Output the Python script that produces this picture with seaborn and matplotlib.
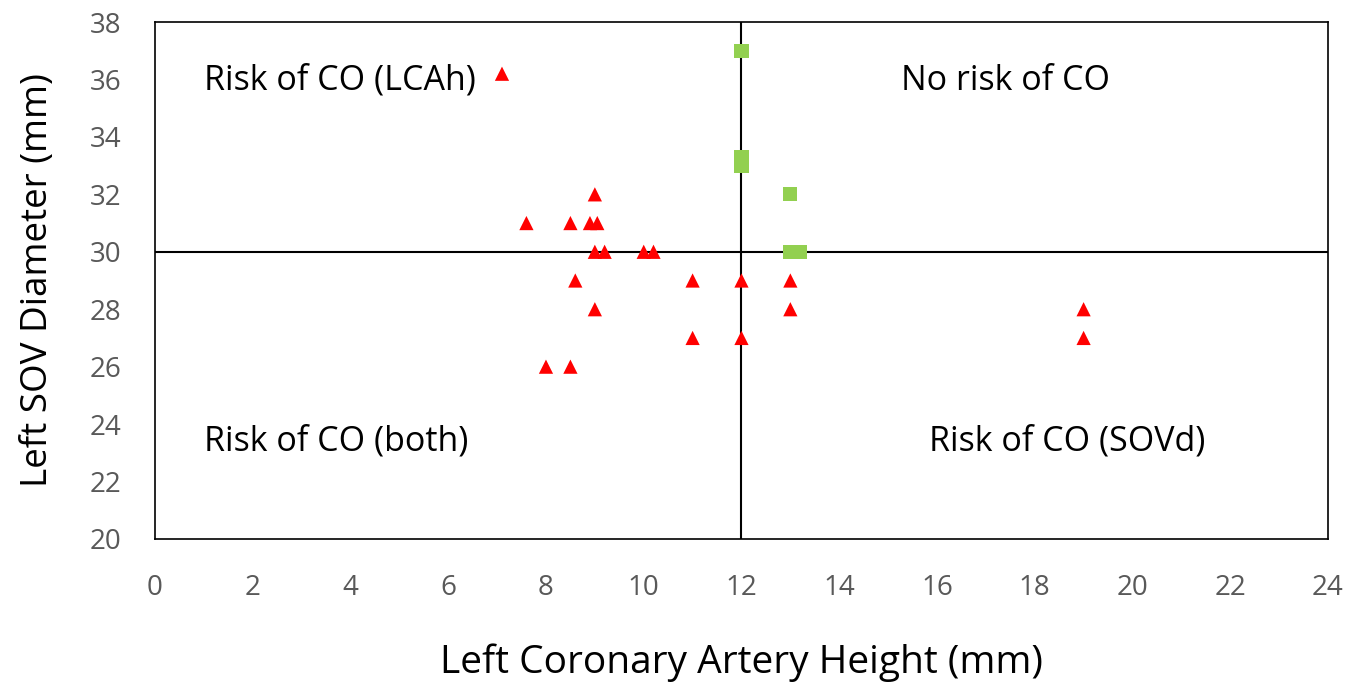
import matplotlib
matplotlib.use("Agg")
import matplotlib.pyplot as plt
import seaborn as sns
import pandas as pd

# Risk group (red triangles)
risk_x = [7.1, 7.6, 8.5, 8.9, 9.05, 9.0, 9.0, 9.2, 10.0, 10.2, 8.6, 9.0, 8.0, 8.5,
          11.0, 11.0, 12.0, 12.0, 13.0, 13.0, 19.0, 19.0]
risk_y = [36.2, 31, 31, 31, 31, 32, 30, 30, 30, 30, 29, 28, 26, 26,
          29, 27, 29, 27, 29, 28, 28, 27]
# No risk group (green squares)
norisk_x = [12.0, 12.0, 12.0, 13.0, 13.0, 13.2]
norisk_y = [37.0, 33.0, 33.3, 32.0, 30.0, 30.0]

x_ticks = list(range(0, 25, 2))
y_ticks = list(range(20, 39, 2))
threshold_x = 12
threshold_y = 30

df = pd.DataFrame({
    "x": risk_x + norisk_x,
    "y": risk_y + norisk_y,
    "group": ["risk"] * len(risk_x) + ["norisk"] * len(norisk_x),
})

sns.set_style("white")
plt.rcParams["font.family"] = ["Open Sans", "DejaVu Sans"]

fig = plt.figure(figsize=(13.63, 6.86), dpi=100)
ax = fig.add_axes([0.1137, 0.2143, 0.8606, 0.7536])

ax.axvline(threshold_x, color="black", lw=1.5, zorder=1)
ax.axhline(threshold_y, color="black", lw=1.5, zorder=1)

sns.scatterplot(data=df, x="x", y="y", hue="group", style="group",
                palette={"risk": "#ff0000", "norisk": "#92d050"},
                markers={"risk": "^", "norisk": "s"},
                s=105, linewidth=0, legend=False, ax=ax, zorder=3)

ax.set_xlim(0, 24)
ax.set_ylim(20, 38)
ax.set_xticks(x_ticks)
ax.set_yticks(y_ticks)
ax.tick_params(axis="both", labelsize=20, colors="#595959", length=0)
ax.tick_params(axis="y", pad=24)
ax.tick_params(axis="x", pad=25)
for s in ax.spines.values():
    s.set_color("black")
    s.set_linewidth(1.2)

ax.set_xlabel("Left Coronary Artery Height (mm)", fontsize=28, color="black", labelpad=30)
ax.set_ylabel("Left SOV Diameter (mm)", fontsize=26.5, color="black", labelpad=24)

tk = dict(fontsize=24.5, color="black", va="center")
ax.text(1.0, 35.95, "Risk of CO (LCAh)", ha="left", **tk)
ax.text(17.4, 35.95, "No risk of CO", ha="center", **tk)
ax.text(1.0, 23.4, "Risk of CO (both)", ha="left", **tk)
ax.text(18.66, 23.4, "Risk of CO (SOVd)", ha="center", **tk)

fig.savefig("out.png", dpi=100)
